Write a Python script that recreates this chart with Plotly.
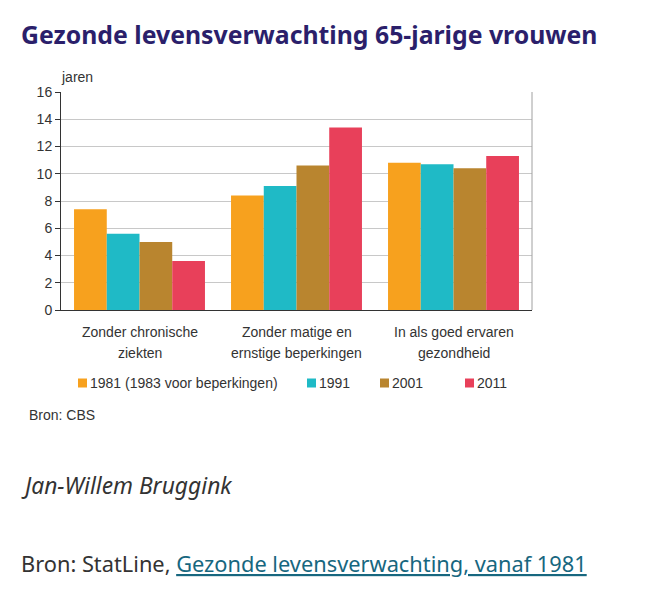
import plotly.graph_objects as go

categories = ["cat1", "cat2", "cat3"]
cat_line1 = ["Zonder chronische", "Zonder matige en", "In als goed ervaren"]
cat_line2 = ["ziekten", "ernstige beperkingen", "gezondheid"]
series_names = ["1981 (1983 voor beperkingen)", "1991", "2001", "2011"]
values_1981 = [7.4, 8.4, 10.8]
values_1991 = [5.6, 9.1, 10.7]
values_2001 = [5.0, 10.6, 10.4]
values_2011 = [3.6, 13.4, 11.3]
colors = ["#F7A11E", "#1FBAC6", "#B9852F", "#E8405A"]
y_ticks = [0, 2, 4, 6, 8, 10, 12, 14, 16]

# page offset (default body margin of the html page)
OFF = 8
W, H = 645 - OFF, 599 - OFF
# plot area in page pixels
L, R, T, B = 61, 532, 92, 310

def px(x):
    return (x - L) / (R - L)

def py(y):
    return (B - y) / (B - T)

fig = go.Figure()
for name, vals, col in zip(series_names, [values_1981, values_1991, values_2001, values_2011], colors):
    fig.add_trace(go.Bar(x=categories, y=vals, name=name, marker=dict(color=col, line=dict(width=0)),
                         showlegend=False))

chart_font = dict(family="Liberation Sans, Arial, sans-serif", size=14, color="#333333")

annotations = []
for c, l1, l2 in zip(categories, cat_line1, cat_line2):
    annotations.append(dict(x=c, xref="x", y=py(332), yref="paper", text=l1, showarrow=False,
                            xanchor="center", yanchor="middle", font=chart_font))
    annotations.append(dict(x=c, xref="x", y=py(352.5), yref="paper", text=l2, showarrow=False,
                            xanchor="center", yanchor="middle", font=chart_font))

legend_sq_x = [78, 307, 380, 465]
shapes = []
for name, col, sx in zip(series_names, colors, legend_sq_x):
    shapes.append(dict(type="rect", xref="paper", yref="paper", x0=px(sx), x1=px(sx + 9),
                       y0=py(387.5), y1=py(378.5), fillcolor=col, line=dict(width=0)))
    annotations.append(dict(x=px(sx + 9.5), xref="paper", y=py(383), yref="paper", text=name,
                            showarrow=False, xanchor="left", yanchor="middle", font=chart_font))

shapes.append(dict(type="line", xref="paper", yref="paper", x0=1, x1=1, y0=0, y1=1,
                   line=dict(color="#a0a0a0", width=1)))

small_font = dict(family="Liberation Sans, Arial, sans-serif", size=14, color="#333333")
annotations += [
    dict(x=px(58.5), y=py(77), xref="paper", yref="paper", text="jaren", showarrow=False,
         xanchor="left", yanchor="middle", font=small_font),
    dict(x=px(27), y=py(415), xref="paper", yref="paper", text="Bron: CBS", showarrow=False,
         xanchor="left", yanchor="middle", font=small_font),
    dict(x=px(19), y=py(34), xref="paper", yref="paper", text="<b>Gezonde levensverwachting 65-jarige vrouwen</b>",
         showarrow=False, xanchor="left", yanchor="middle",
         font=dict(family="Noto Sans, sans-serif", size=24.8, color="#2B1F6B")),
    dict(x=px(19), y=py(485), xref="paper", yref="paper", text="<i>Jan-Willem Bruggink</i>",
         showarrow=False, xanchor="left", yanchor="middle",
         font=dict(family="Noto Sans, sans-serif", size=22.8, color="#333333")),
    dict(x=px(19), y=py(563), xref="paper", yref="paper",
         text="Bron: StatLine, <span style='color:#17677F;text-decoration:underline'>Gezonde levensverwachting, vanaf 1981</span>",
         showarrow=False, xanchor="left", yanchor="middle",
         font=dict(family="Noto Sans, sans-serif", size=21.8, color="#333333")),
]

fig.update_layout(
    width=W, height=H,
    margin=dict(l=L - OFF, r=645 - R, t=T - OFF, b=599 - B, pad=0),
    paper_bgcolor="white", plot_bgcolor="white",
    barmode="group", bargap=0.166, bargroupgap=0,
    font=chart_font,
    shapes=shapes, annotations=annotations,
    xaxis=dict(showticklabels=False, showline=True, linecolor="#333333", linewidth=1,
               ticks="", showgrid=False, zeroline=False, fixedrange=True),
    yaxis=dict(range=[0, 16], tickvals=y_ticks, showline=True, linecolor="#333333", linewidth=1,
               ticks="outside", ticklen=5, tickcolor="#333333", showgrid=True, gridcolor="#C8C8C8",
               gridwidth=1, zeroline=False, tickfont=chart_font, fixedrange=True),
)

fig.write_html("out.html")
